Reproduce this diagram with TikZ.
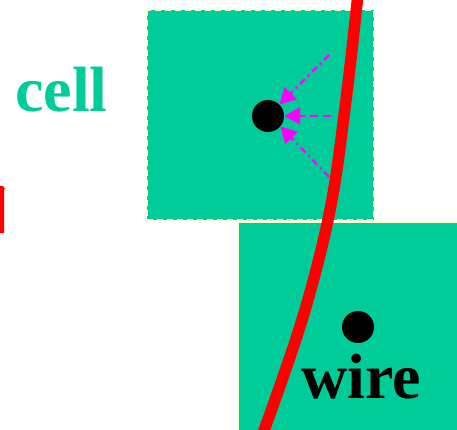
\documentclass[tikz,border=0pt]{standalone}
\usepackage{fontspec}
\setmainfont{Liberation Serif}
\usetikzlibrary{arrows.meta}
\definecolor{cellgreen}{RGB}{0,204,153}
\definecolor{paleyellow}{RGB}{255,255,204}
\definecolor{wirered}{RGB}{255,0,0}
\definecolor{magentaarrow}{RGB}{255,0,255}
\begin{document}
\begin{tikzpicture}[x=1pt,y=-1pt,
  cellbox/.style={fill=cellgreen,draw=paleyellow,line width=1.2pt},
  dot/.style={circle,fill=black,inner sep=0pt,minimum size=32pt},
  field/.style={draw=magentaarrow,line width=2.2pt,-{Triangle[length=16pt,width=17pt]}},
  bigtext/.style={font=\fontsize{64}{64}\selectfont\bfseries,inner sep=0pt,anchor=base west}]
\useasboundingbox (0,0) rectangle (457,430);
% boxes
\draw[cellbox,dash pattern=on 6pt off 4pt] (147,10) rectangle (374,220);
\draw[cellbox] (238,222.5) rectangle (460,433);
% dots
\node[dot] (d1) at (268,116) {};
\node[dot] (d2) at (358,327) {};
% arrow sources
\coordinate (s1) at (329,55);
\coordinate (s2) at (331,116);
\coordinate (s3) at (329,177);
\draw[field,dash pattern=on 7pt off 4pt on 2pt off 4pt] (s1) -- (d1.45);
\draw[field,dash pattern=on 8pt off 5pt] (s2) -- (d1.east);
\draw[field,dash pattern=on 7pt off 4pt on 2pt off 4pt] (s3) -- (d1.-40);
% red wire
\draw[wirered,line width=11.5pt] plot[smooth,tension=0.6] coordinates {(358,-6) (346,100) (330,210) (302,320) (262,436)};
% left red fragment
\fill[wirered] (0,186) -- (3,186) -- (5,189) -- (4,190) -- (4,233) -- (0,233) -- cycle;
% labels
\node[bigtext,text=cellgreen] (cell) at (15,112) {cell};
\node[bigtext,text=black] (wire) at (301,398) {wire};
\end{tikzpicture}
\end{document}
